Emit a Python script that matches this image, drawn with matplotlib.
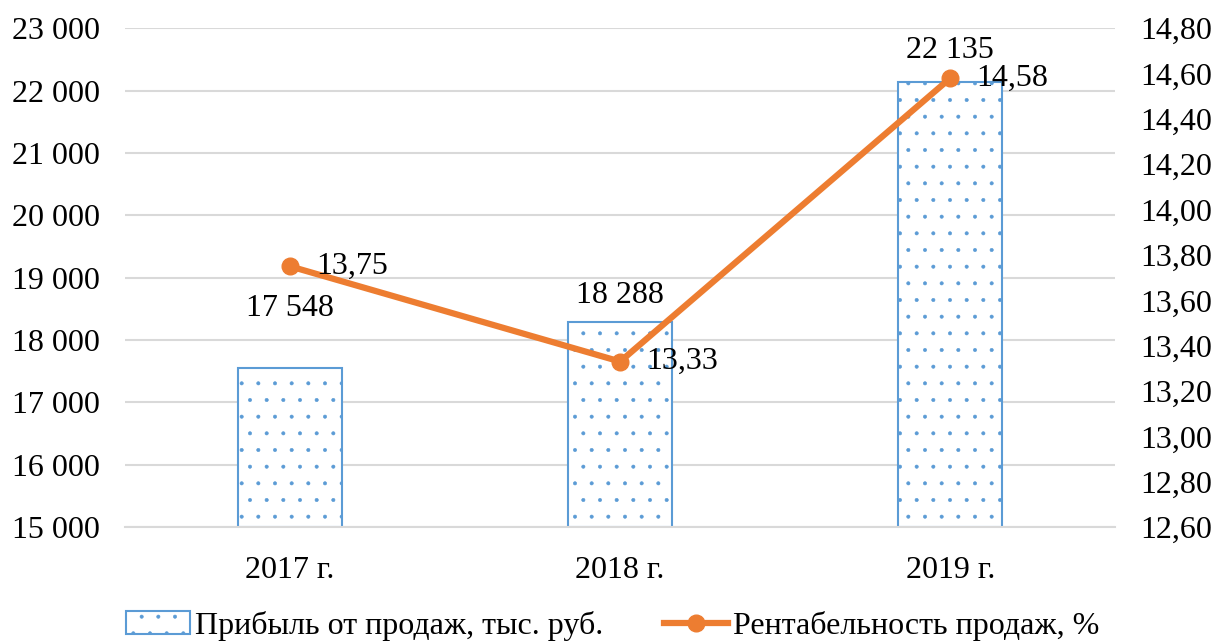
import matplotlib
matplotlib.use("Agg")
import matplotlib.pyplot as plt
import numpy as np

years = ["2017 г.", "2018 г.", "2019 г."]
profit = [17548, 18288, 22135]
margin = [13.75, 13.33, 14.58]

BAR_C = "#5B9BD5"
LINE_C = "#ED7D31"
GRID_C = "#D9D9D9"

plt.rcParams["font.family"] = ["Liberation Serif", "DejaVu Serif"]
plt.rcParams["hatch.color"] = BAR_C
plt.rcParams["hatch.linewidth"] = 0.4

fig = plt.figure(figsize=(12.19, 6.42), dpi=100)
ax = fig.add_axes([0.1025, 0.179, 0.8125, 0.777])
x = np.arange(len(years))

bars = ax.bar(x, [p - 15000 for p in profit], bottom=15000, width=0.315,
              color="white", edgecolor=BAR_C, linewidth=1.5, hatch=".",
              label="Прибыль от продаж, тыс. руб.", zorder=2)
# подписи над столбцами (смещения как в исходной диаграмме)
bar_lift = [950, 420, 515]
for xi, p, d in zip(x, profit, bar_lift):
    ax.text(xi, p + d, f"{p:,}".replace(",", " "), ha="center", va="center",
            fontsize=23)

ax.set_ylim(15000, 23000)
ax.set_xlim(-0.5, 2.5)
ax.set_yticks(np.arange(15000, 23001, 1000))
ax.set_yticklabels([f"{v:,}".replace(",", " ") for v in range(15000, 23001, 1000)])
ax.set_xticks(x)
ax.set_xticklabels(years)
ax.grid(axis="y", color=GRID_C, linewidth=1.5, zorder=0)
ax.set_axisbelow(True)
for s in ["top", "left", "right"]:
    ax.spines[s].set_visible(False)
ax.spines["bottom"].set_color(GRID_C)
ax.spines["bottom"].set_linewidth(1.5)
ax.tick_params(axis="y", length=0, labelsize=23, pad=18)
ax.tick_params(axis="x", length=0, labelsize=23, pad=21)

ax2 = ax.twinx()
line, = ax2.plot(x, margin, color=LINE_C, linewidth=4.5, marker="o",
                 markersize=12, label="Рентабельность продаж, %", zorder=3)
ax2.set_ylim(12.6, 14.8)
ticks2 = np.arange(12.6, 14.81, 0.2)
ax2.set_yticks(ticks2)
ax2.set_yticklabels([f"{t:.2f}".replace(".", ",") for t in ticks2])
for s in ["top", "left", "right", "bottom"]:
    ax2.spines[s].set_visible(False)
ax2.tick_params(length=0, labelsize=23, pad=18)

for xi, m in zip(x, margin):
    ax2.text(xi + 0.08, m, f"{m:.2f}".replace(".", ","), ha="left",
             va="center", fontsize=23)

fig.legend(handles=[bars, line], loc="lower left", ncol=2, frameon=False,
           fontsize=23, bbox_to_anchor=(0.08, -0.043), columnspacing=1.9,
           handlelength=2.0, handletextpad=0.15)

fig.savefig("out.png", dpi=100)
